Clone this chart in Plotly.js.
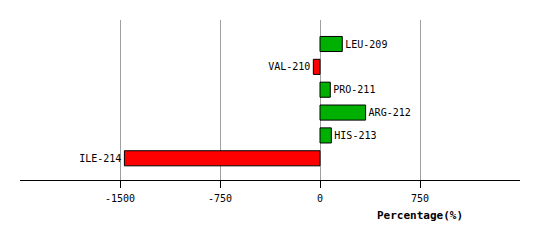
<!DOCTYPE html>
<html><head><meta charset="utf-8">
<script src="https://cdn.plot.ly/plotly-3.0.1.min.js"></script>
<style>html,body{margin:0;padding:0;background:#fff}#c{width:540px;height:240px}</style>
</head><body><div id="c"></div>
<script>
const residues = ["LEU-209","VAL-210","PRO-211","ARG-212","HIS-213","ILE-214"];
const percentages = [167, -50, 77, 342, 85, -1467];
const tickValues = [-1500, -750, 0, 750];
const tickLabels = ["-1500", "-750", "0", "750"];
const axisTitle = "Percentage(%)";

const colors = percentages.map(v => v >= 0 ? "#00b000" : "#ff0000");
const trace = {
  type: "bar", orientation: "h",
  y: residues, x: percentages,
  marker: {color: colors, line: {color: "#000", width: 1}},
  width: 0.66,
  text: residues, textposition: "outside", constraintext: "none", cliponaxis: false,
  textfont: {family: "DejaVu Sans Mono", size: 10, color: "#000"},
  hoverinfo: "none"
};
const layout = {
  width: 540, height: 240,
  margin: {l: 20, r: 20, t: 20, b: 60},
  paper_bgcolor: "#fff", plot_bgcolor: "#fff",
  showlegend: false,
  xaxis: {
    range: [-2250, 1500], tickvals: tickValues, ticktext: tickLabels,
    showgrid: true, gridcolor: "#a0a0a0", gridwidth: 1,
    zeroline: false, showline: true, linecolor: "#000", linewidth: 1,
    ticks: "outside", ticklen: 7, tickcolor: "#000", ticklabelstandoff: 2,
    tickfont: {family: "DejaVu Sans Mono", size: 10, color: "#000"}
  },
  yaxis: {
    type: "category", autorange: false, range: [5.95, -1.05],
    showticklabels: false, showgrid: false, zeroline: false, showline: false, ticks: ""
  },
  annotations: [{
    text: "<b>" + axisTitle + "</b>", xref: "x", x: 750, yref: "paper", y: -0.22,
    yanchor: "middle", xanchor: "center", showarrow: false,
    font: {family: "DejaVu Sans Mono", size: 11, color: "#000"}
  }]
};
Plotly.newPlot("c", [trace], layout, {staticPlot: true});
</script></body></html>
